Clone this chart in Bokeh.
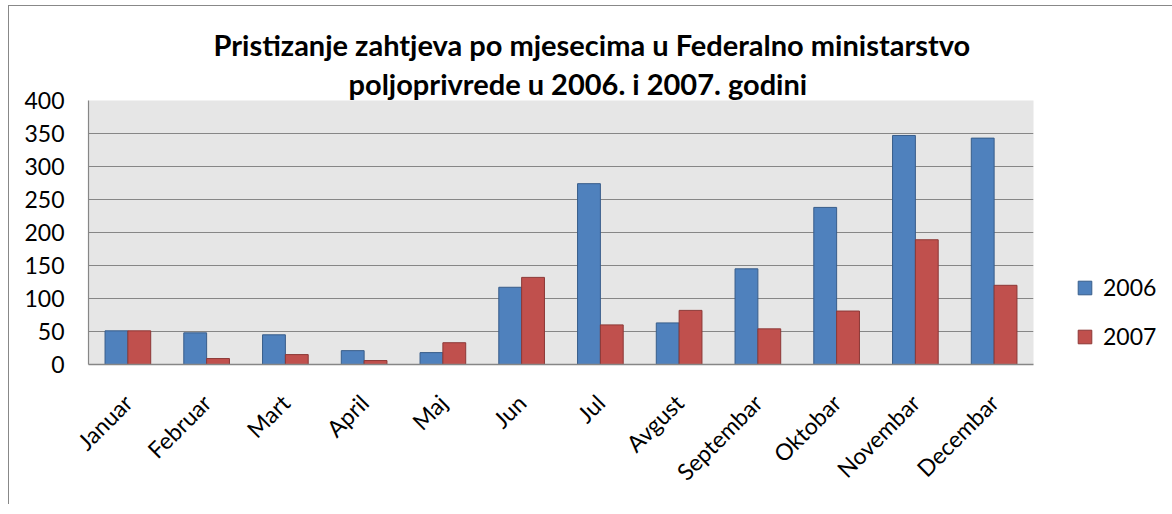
from math import pi
from bokeh.plotting import figure
from bokeh.models import (ColumnDataSource, FactorRange, Range1d, FixedTicker,
                          Legend, LegendItem, Title)
from bokeh.transform import dodge
from bokeh.embed import file_html
from bokeh.resources import INLINE

months = ["Januar", "Februar", "Mart", "April", "Maj", "Jun", "Jul", "Avgust",
          "Septembar", "Oktobar", "Novembar", "Decembar"]
y2006 = [51, 48, 45, 21, 18, 117, 274, 63, 145, 238, 347, 343]
y2007 = [51, 9, 15, 6, 33, 132, 60, 82, 54, 81, 189, 120]
y_ticks = [0, 50, 100, 150, 200, 250, 300, 350, 400]
title_lines = ["Pristizanje zahtjeva po mjesecima u Federalno ministarstvo",
               "poljoprivrede u 2006. i 2007. godini"]
series_names = ["2006", "2007"]

FONT = "Lato"
BLUE, BLUE_L = "#4F81BD", "#385D8A"
RED, RED_L = "#C0504D", "#8C3836"
GRID = "#868686"

src = ColumnDataSource(dict(month=months, y2006=y2006, y2007=y2007))

p = figure(frame_width=945, frame_height=264, x_range=FactorRange(*months),
           y_range=Range1d(0, 400), output_backend="svg", toolbar_location=None,
           min_border_left=79, min_border_right=125, min_border_top=94,
           min_border_bottom=140)
p.margin = (5, 0, 0, 8)
p.styles = {"border-top": "1px solid #888888", "border-left": "1px solid #888888"}
p.background_fill_color = "#E6E6E6"
p.border_fill_color = "white"
p.outline_line_color = None

r1 = p.vbar(x=dodge("month", -0.145, range=p.x_range), top="y2006", width=0.29,
            source=src, fill_color=BLUE, line_color=BLUE_L, line_width=1)
r2 = p.vbar(x=dodge("month", 0.145, range=p.x_range), top="y2007", width=0.29,
            source=src, fill_color=RED, line_color=RED_L, line_width=1)

p.xgrid.grid_line_color = None
p.ygrid.grid_line_color = GRID
p.ygrid.grid_line_width = 1.2
p.ygrid.ticker = FixedTicker(ticks=y_ticks)

p.yaxis.ticker = FixedTicker(ticks=y_ticks)
p.yaxis.axis_line_color = GRID
p.yaxis.axis_line_width = 1.2
p.yaxis.major_tick_line_color = None
p.yaxis.minor_tick_line_color = None
p.yaxis.major_tick_out = 0
p.yaxis.major_label_standoff = 24
p.yaxis.major_label_text_font = FONT
p.yaxis.major_label_text_font_size = "23px"
p.yaxis.major_label_text_color = "black"

p.xaxis.axis_line_color = GRID
p.xaxis.axis_line_width = 1.5
p.xaxis.major_tick_line_color = None
p.xaxis.major_tick_out = 0
p.xaxis.major_label_standoff = 34
p.xaxis.major_label_orientation = pi / 4
p.xaxis.major_label_text_font = FONT
p.xaxis.major_label_text_font_size = "23px"
p.xaxis.major_label_text_color = "black"

legend = Legend(items=[LegendItem(label=series_names[0], renderers=[r1]),
                       LegendItem(label=series_names[1], renderers=[r2])],
                location=(43, 14), orientation="vertical",
                border_line_color=None, background_fill_alpha=0,
                padding=0, margin=0, spacing=21,
                glyph_width=17, glyph_height=17, label_height=26,
                label_standoff=10, label_text_font=FONT,
                label_text_font_size="23px", label_text_color="black")
p.add_layout(legend, "right")

p.add_layout(Title(text=title_lines[1], align="left", offset=260, standoff=0,
                   text_font=FONT, text_font_style="bold", text_font_size="29px",
                   text_color="black"), "above")
p.add_layout(Title(text=title_lines[0], align="left", offset=125, standoff=3,
                   text_font=FONT, text_font_style="bold", text_font_size="29px",
                   text_color="black"), "above")

open("out.html", "w").write(file_html(p, INLINE))
